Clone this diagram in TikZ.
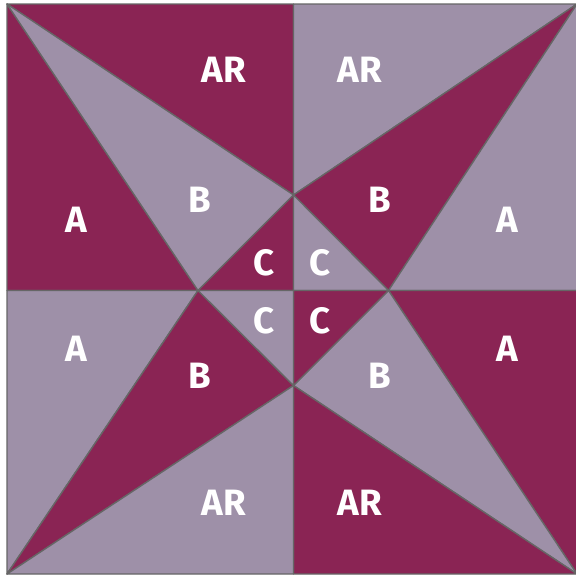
\documentclass[tikz,border=0pt]{standalone}
\usepackage{fontspec}
\setmainfont{Fira Sans}
\definecolor{dark}{HTML}{8A2454}
\definecolor{pale}{HTML}{9E90A8}
\definecolor{seam}{HTML}{666666}
\tikzset{
  patchd/.style={fill=dark,draw=seam,line width=1pt,line join=round},
  patchp/.style={fill=pale,draw=seam,line width=1pt,line join=round},
  lab/.style={text=white,font=\fontsize{27.5}{27.5}\selectfont\bfseries,inner sep=0pt,text height=19.5pt,text depth=0pt,anchor=center}
}
\begin{document}
\begin{tikzpicture}[x=.75pt,y=-.75pt]
\useasboundingbox (0,0) rectangle (576,575);
\coordinate (TL) at (7,4);
\coordinate (TM) at (293.5,4);
\coordinate (TR) at (577,4);
\coordinate (ML) at (7,290.5);
\coordinate (MR) at (577,290.5);
\coordinate (BL) at (7,574);
\coordinate (BM) at (293.5,574);
\coordinate (BR) at (577,574);
\coordinate (O) at (293.5,290.5);
\coordinate (T) at (293.5,195);
\coordinate (L) at (198,290.5);
\coordinate (R) at (388.5,290.5);
\coordinate (B) at (293.5,385.5);
% top left
\draw[patchd] (TL)--(TM)--(T)--cycle;
\draw[patchd] (TL)--(ML)--(L)--cycle;
\draw[patchp] (TL)--(T)--(L)--cycle;
\draw[patchd] (T)--(L)--(O)--cycle;
% top right
\draw[patchp] (TM)--(TR)--(T)--cycle;
\draw[patchd] (TR)--(T)--(R)--cycle;
\draw[patchp] (TR)--(MR)--(R)--cycle;
\draw[patchp] (T)--(R)--(O)--cycle;
% bottom right
\draw[patchd] (MR)--(R)--(BR)--cycle;
\draw[patchp] (R)--(BR)--(B)--cycle;
\draw[patchd] (B)--(BR)--(BM)--cycle;
\draw[patchd] (O)--(R)--(B)--cycle;
% bottom left
\draw[patchp] (ML)--(L)--(BL)--cycle;
\draw[patchd] (L)--(B)--(BL)--cycle;
\draw[patchp] (B)--(BL)--(BM)--cycle;
\draw[patchp] (L)--(O)--(B)--cycle;
% labels
\node[lab] (ar1) at (223.5,69) {AR};
\node[lab] (ar2) at (360,69) {AR};
\node[lab] (a1) at (76.5,219) {A};
\node[lab] (a2) at (507,219) {A};
\node[lab] (b1) at (199.5,199) {B};
\node[lab] (b2) at (380,199) {B};
\node[lab] (c1) at (264.5,262) {C};
\node[lab] (c2) at (320,262) {C};
\node[lab] (c3) at (264.5,320) {C};
\node[lab] (c4) at (320,320) {C};
\node[lab] (a3) at (76.5,348) {A};
\node[lab] (a4) at (507,348) {A};
\node[lab] (b3) at (199.5,375) {B};
\node[lab] (b4) at (380,375) {B};
\node[lab] (ar3) at (223.5,502) {AR};
\node[lab] (ar4) at (360,502) {AR};
\end{tikzpicture}
\end{document}
